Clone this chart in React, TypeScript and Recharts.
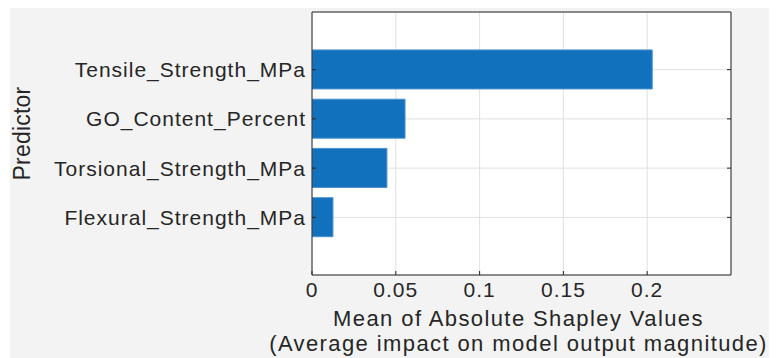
import { Bar, BarChart, CartesianGrid, XAxis, YAxis } from "recharts";

const predictors = [
  "Tensile_Strength_MPa",
  "GO_Content_Percent",
  "Torsional_Strength_MPa",
  "Flexural_Strength_MPa",
];
const meanAbsShap = [0.203, 0.0555, 0.0447, 0.0125];
const xTicks = [0, 0.05, 0.1, 0.15, 0.2];

const data = predictors.map((name, i) => ({ name, value: meanAbsShap[i] }));

const INK = "#262626";
const FONT = "'Liberation Sans', Arial, sans-serif";

function BottomTick({ x, y, payload }: any) {
  return (
    <g>
      <line x1={x} x2={x} y1={y} y2={y - 4} stroke={INK} />
      <text x={x} y={y + 22} textAnchor="middle" fill={INK} fontSize={21} letterSpacing={1} fontFamily={FONT}>
        {String(payload.value)}
      </text>
    </g>
  );
}

function TopTick({ x, y }: any) {
  return <line x1={x} x2={x} y1={y} y2={y + 4} stroke={INK} />;
}

function LeftTick({ x, y, payload }: any) {
  return (
    <g>
      <line x1={x + 6} x2={x + 10} y1={y} y2={y} stroke={INK} />
      <text x={x} y={y + 7.5} textAnchor="end" fill={INK} fontSize={21} letterSpacing={1} fontFamily={FONT}>
        {payload.value}
      </text>
    </g>
  );
}

function RightTick({ x, y }: any) {
  return <line x1={x} x2={x - 4} y1={y} y2={y} stroke={INK} />;
}

function XTitle({ viewBox }: any) {
  const cx = viewBox.x + viewBox.width / 2 - 3;
  return (
    <g fill={INK} fontSize={22} letterSpacing={1.4} fontFamily={FONT}>
      <text x={cx} y={viewBox.y + 51} textAnchor="middle">
        Mean of Absolute Shapley Values
      </text>
      <text x={cx} y={viewBox.y + 76} textAnchor="middle">
        (Average impact on model output magnitude)
      </text>
    </g>
  );
}

function YTitle({ viewBox }: any) {
  const cx = viewBox.x + 20;
  const cy = viewBox.y + viewBox.height / 2 - 10;
  return (
    <text
      x={cx}
      y={cy}
      transform={`rotate(-90, ${cx}, ${cy})`}
      textAnchor="middle"
      fill={INK}
      fontSize={23}
      letterSpacing={0.2}
      fontFamily={FONT}
    >
      Predictor
    </text>
  );
}

export default function App() {
  return (
    <div style={{ marginLeft: 2, width: 767, height: 350, background: "#f3f3f3" }}>
      <BarChart
        width={767}
        height={350}
        data={data}
        layout="vertical"
        margin={{ top: 3, right: 45, bottom: 0, left: 0 }}
      >
        <CartesianGrid stroke="#e0e0e0" fill="#ffffff" />
        <XAxis
          type="number"
          domain={[0, 0.25]}
          ticks={xTicks}
          allowDataOverflow
          height={83}
          stroke={INK}
          tickSize={0}
          tickMargin={0}
          tickLine={false}
          tick={<BottomTick />}
          label={{ content: <XTitle /> }}
        />
        <XAxis
          xAxisId="top"
          orientation="top"
          type="number"
          domain={[0, 0.25]}
          ticks={xTicks}
          height={1}
          stroke={INK}
          tickSize={0}
          tickMargin={0}
          tickLine={false}
          tick={<TopTick />}
        />
        <YAxis
          type="category"
          dataKey="name"
          width={302}
          padding={{ top: 33, bottom: 33 }}
          stroke={INK}
          tickSize={0}
          tickMargin={6}
          tickLine={false}
          tick={<LeftTick />}
          label={{ content: <YTitle /> }}
        />
        <YAxis
          yAxisId="r"
          orientation="right"
          type="category"
          dataKey="name"
          width={1}
          padding={{ top: 33, bottom: 33 }}
          stroke={INK}
          tickSize={0}
          tickMargin={0}
          tickLine={false}
          tick={<RightTick />}
        />
        <Bar dataKey="value" fill="#1271bd" stroke="#4a90d0" strokeWidth={1} isAnimationActive={false} />
      </BarChart>
    </div>
  );
}
